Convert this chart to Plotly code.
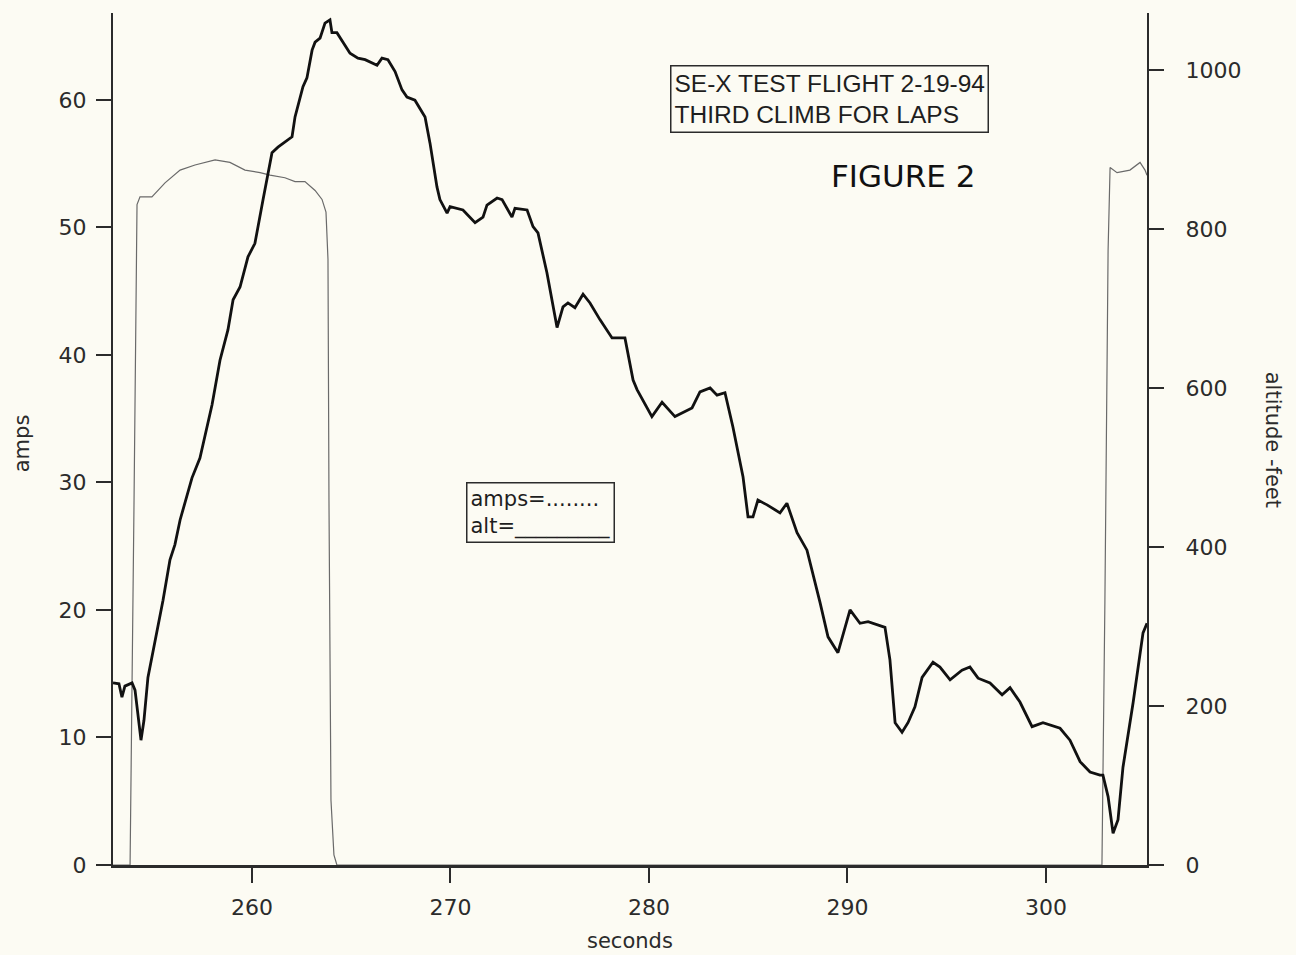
import plotly.graph_objects as go

# ---- data (seconds, altitude in feet) ----
alt_seconds = [
    253.00, 253.30, 253.45, 253.60, 253.96, 254.11, 254.41, 254.56, 254.76, 255.12,
    255.52, 255.87, 256.12, 256.38, 256.68, 256.98, 257.38, 257.69, 257.99, 258.39,
    258.79, 259.05, 259.40, 259.80, 260.15, 260.56, 260.76, 261.01, 261.31, 261.77,
    262.02, 262.17, 262.57, 262.77, 263.03, 263.18, 263.43, 263.68, 263.93, 264.03,
    264.28, 264.94, 265.34, 265.70, 266.30, 266.55, 266.85, 267.21, 267.56, 267.81,
    268.21, 268.72, 268.97, 269.32, 269.47, 269.83, 269.98, 270.63, 271.24, 271.64,
    271.84, 272.35, 272.60, 273.10, 273.25, 273.86, 274.16, 274.41, 274.86, 275.37,
    275.67, 275.92, 276.27, 276.68, 277.03, 277.53, 278.14, 278.79, 279.20, 279.40,
    280.15, 280.66, 281.31, 282.17, 282.57, 283.08, 283.43, 283.83, 284.23, 284.74,
    284.99, 285.24, 285.49, 285.95, 286.60, 286.95, 287.46, 287.96, 288.26, 288.62,
    289.02, 289.52, 290.13, 290.63, 291.04, 291.89, 292.14, 292.40, 292.75, 293.05,
    293.40, 293.76, 294.31, 294.66, 295.17, 295.77, 296.17, 296.58, 297.18, 297.79,
    298.19, 298.69, 299.30, 299.85, 300.71, 301.21, 301.72, 302.22, 302.72, 302.87,
    303.13, 303.38, 303.63, 303.88, 304.39, 304.89, 305.09,
]
altitude_ft = [
    229, 228, 211, 225, 229, 220, 157, 182, 236, 283,
    333, 384, 403, 434, 459, 487, 512, 547, 579, 635,
    673, 711, 727, 765, 782, 837, 862, 896, 903, 912,
    916, 941, 979, 990, 1025, 1035, 1040, 1059, 1063, 1047,
    1047, 1021, 1015, 1013, 1006, 1015, 1013, 998, 975, 966,
    962, 941, 908, 853, 837, 820, 828, 824, 808, 815,
    830, 839, 837, 815, 826, 824, 803, 795, 745, 676,
    702, 707, 701, 718, 707, 686, 663, 663, 610, 598,
    564, 582, 564, 575, 595, 600, 591, 594, 551, 488,
    438, 438, 459, 453, 443, 455, 418, 396, 367, 330,
    287, 267, 321, 304, 306, 299, 258, 179, 167, 179,
    199, 236, 255, 249, 233, 245, 249, 235, 229, 214,
    223, 205, 174, 179, 172, 157, 130, 117, 113, 113,
    86, 40, 57, 123, 204, 292, 304,
]

# ---- motor current (amps) ----
amp_seconds = [
    253.00, 253.86, 254.06, 254.21, 254.36, 254.96, 255.62, 256.38, 257.13, 258.14,
    258.89, 259.65, 260.41, 260.91, 261.66, 262.17, 262.67, 263.18, 263.53, 263.73,
    263.83, 263.88, 263.98, 264.13, 264.28, 302.82, 302.97, 303.13, 303.23, 303.58,
    304.23, 304.74, 304.99, 305.09,
]
amps = [
    0, 0, 28.6, 51.8, 52.4, 52.4, 53.5, 54.5, 54.9, 55.3,
    55.1, 54.5, 54.3, 54.1, 53.9, 53.6, 53.6, 52.9, 52.2, 51.2,
    47.5, 28.6, 5.1, 0.8, 0, 0, 20.8, 48.2, 54.7, 54.3,
    54.5, 55.1, 54.5, 54.1,
]

x_ticks = [260, 270, 280, 290, 300]
amp_ticks = [0, 10, 20, 30, 40, 50, 60]
alt_ticks = [0, 200, 400, 600, 800, 1000]

BG = "#fcfbf3"
INK = "#2b2b2b"
FONT = "DejaVu Sans"

fig = go.Figure()
fig.add_trace(go.Scatter(x=amp_seconds, y=amps, mode="lines", name="amps",
                         line=dict(color="#6a6a6a", width=1.2), yaxis="y"))
fig.add_trace(go.Scatter(x=alt_seconds, y=altitude_ft, mode="lines", name="alt",
                         line=dict(color="#111111", width=2.8), yaxis="y2"))

axis_common = dict(showgrid=False, zeroline=False, showline=True, linecolor=INK,
                   ticks="outside", ticklen=15, tickwidth=2, tickcolor=INK,
                   tickfont=dict(family=FONT, size=22, color=INK))

fig.update_layout(
    width=1296, height=955,
    margin=dict(l=113, r=149, t=13, b=90),
    paper_bgcolor=BG, plot_bgcolor=BG,
    showlegend=False,
    font=dict(family=FONT, color=INK),
    xaxis=dict(range=[253, 305.09], tickvals=x_ticks, linewidth=3,
               ticklabelstandoff=6, **axis_common),
    yaxis=dict(range=[0, 66.82], tickvals=amp_ticks, linewidth=2,
               ticklabelstandoff=5, **axis_common),
    yaxis2=dict(range=[0, 1071.7], tickvals=alt_ticks, overlaying="y", side="right",
                linewidth=2, ticklabelstandoff=17, **axis_common),
)

annotations = [
    dict(text="amps", x=-0.088, y=0.495, textangle=-90,
         font=dict(family=FONT, size=21, color=INK)),
    dict(text="altitude -feet", x=1.122, y=0.499, textangle=90,
         font=dict(family=FONT, size=21, color=INK)),
    dict(text="seconds", x=0.5, y=-0.089,
         font=dict(family=FONT, size=21, color=INK)),
    dict(text="SE-X TEST FLIGHT 2-19-94<br>THIRD CLIMB FOR LAPS", x=0.6925, y=0.8996,
         align="left", bordercolor=INK, borderwidth=1.5, borderpad=3,
         font=dict(family="Liberation Sans", size=24.5, color="#1e1e1e")),
    dict(text="FIGURE 2", x=0.764, y=0.8087,
         font=dict(family=FONT, size=31, color="#111111")),
    dict(text="amps=........<br>alt=_________", x=0.413, y=0.414,
         align="left", bordercolor=INK, borderwidth=1.5, borderpad=3,
         font=dict(family=FONT, size=21, color="#1e1e1e")),
]
for a in annotations:
    a.update(xref="paper", yref="paper", showarrow=False,
             xanchor="center", yanchor="middle")
fig.update_layout(annotations=annotations)

fig.write_html(
    "out.html",
    config={"displayModeBar": False},
    post_script="document.body.style.margin='0';document.body.style.overflow='hidden';",
)
